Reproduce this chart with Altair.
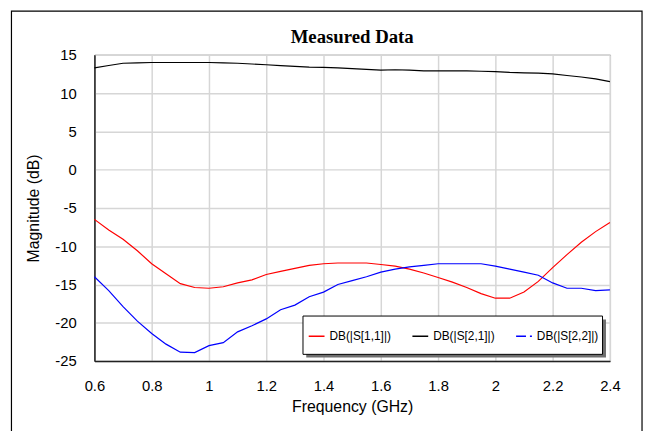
import altair as alt
import pandas as pd

freq = [0.60, 0.65, 0.70, 0.75, 0.80, 0.85, 0.90, 0.95, 1.00, 1.05, 1.10, 1.15,
        1.20, 1.25, 1.30, 1.35, 1.40, 1.45, 1.50, 1.55, 1.60, 1.65, 1.70, 1.75,
        1.80, 1.85, 1.90, 1.95, 2.00, 2.05, 2.10, 2.15, 2.20, 2.25, 2.30, 2.35, 2.40]

s11 = [-6.5, -7.9, -9.1, -10.6, -12.3, -13.6, -14.9, -15.4, -15.5, -15.3, -14.8, -14.4,
       -13.7, -13.3, -12.9, -12.5, -12.3, -12.2, -12.2, -12.2, -12.4, -12.6, -13.0, -13.5,
       -14.1, -14.7, -15.4, -16.2, -16.8, -16.8, -16.0, -14.6, -12.8, -11.1, -9.5, -8.1, -6.9]

s21 = [13.3, 13.6, 13.9, 13.95, 14.0, 14.0, 14.0, 14.0, 14.0, 13.95, 13.9, 13.8,
       13.7, 13.6, 13.5, 13.4, 13.35, 13.3, 13.2, 13.1, 13.0, 13.05, 13.0, 12.9,
       12.9, 12.9, 12.9, 12.85, 12.8, 12.7, 12.65, 12.6, 12.5, 12.3, 12.1, 11.85, 11.5]

s22 = [-14.0, -15.8, -17.9, -19.8, -21.4, -22.8, -23.85, -23.9, -23.0, -22.6, -21.2, -20.4,
       -19.5, -18.3, -17.7, -16.6, -16.0, -15.0, -14.5, -14.0, -13.4, -13.0, -12.7, -12.5,
       -12.3, -12.3, -12.3, -12.3, -12.6, -13.0, -13.4, -13.8, -14.8, -15.5, -15.5, -15.8, -15.7]

series_names = ["DB(|S[1,1]|)", "DB(|S[2,1]|)", "DB(|S[2,2]|)"]
series_colors = ["#ff0000", "#000000", "#0000ff"]
legend_dashes = [[1, 0], [1, 0], [10, 4, 2, 4]]
x_ticks = [0.6, 0.8, 1.0, 1.2, 1.4, 1.6, 1.8, 2.0, 2.2, 2.4]
y_ticks = [-25, -20, -15, -10, -5, 0, 5, 10, 15]

rows = []
for name, vals in zip(series_names, [s11, s21, s22]):
    for f, v in zip(freq, vals):
        rows.append({"freq": f, "db": v, "series": name})
df = pd.DataFrame(rows)

one = pd.DataFrame({"k": [0]})

W, H = 522, 310

leg = alt.Legend(
    title=None, orient="none", legendX=216, legendY=276,
    direction="horizontal", symbolType="stroke", symbolSize=256,
    symbolStrokeWidth=1.5, symbolOpacity=1, labelFont="Liberation Sans",
    labelFontSize=12, labelColor="black", labelOffset=4,
    columnPadding=18, padding=0)

xenc = alt.X("freq:Q",
             scale=alt.Scale(domain=[0.6, 2.4], nice=False, zero=False),
             axis=alt.Axis(values=x_ticks, format="~g", title="Frequency (GHz)",
                           titleX=W / 2, titleY=46.3, titleBaseline="middle",
                           titleAlign="center", labelFlush=False,
                           labelPadding=18, domainWidth=1.5, domainColor="#222"))
yenc = alt.Y("db:Q",
             scale=alt.Scale(domain=[-25, 15], nice=False, zero=False),
             axis=alt.Axis(values=y_ticks, labelExpr="'' + datum.value",
                           title="Magnitude (dB)",
                           titleX=-61.5, titleY=H / 2, titleBaseline="middle",
                           titleAlign="center", titleAngle=-90,
                           labelPadding=18.5, domainWidth=1.5, domainColor="#222"))
cenc = alt.Color("series:N", scale=alt.Scale(domain=series_names, range=series_colors),
                 legend=leg)

lines = alt.Chart(df).mark_line(strokeWidth=1.2).encode(
    x=xenc, y=yenc, color=cenc, detail="series:N")

legend_src = alt.Chart(df).mark_line(strokeWidth=1.2, opacity=0).encode(
    x=xenc, y=yenc, color=cenc,
    strokeDash=alt.StrokeDash("series:N",
                              scale=alt.Scale(domain=series_names, range=legend_dashes),
                              legend=leg))

outer = alt.Chart(one).mark_rect(fill=None, stroke="black", strokeWidth=1.2, clip=False).encode(
    x=alt.value(-84), x2=alt.value(554.5), y=alt.value(-44.2), y2=alt.value(385))

shadow = alt.Chart(one).mark_rect(fill="#6e6e6e", clip=False).encode(
    x=alt.value(214.5), x2=alt.value(518), y=alt.value(268), y2=alt.value(306.5))

box = alt.Chart(one).mark_rect(fill="white", stroke="black", strokeWidth=1, clip=False).encode(
    x=alt.value(211.2), x2=alt.value(514.5), y=alt.value(264.5), y2=alt.value(303.3))

chart = alt.layer(outer, lines, legend_src, shadow, box).properties(
    width=W, height=H,
    background="white",
    padding={"left": 87.5, "top": 44.75, "right": 34.5, "bottom": 68.25},
    autosize=alt.AutoSizeParams(type="none"),
    title=alt.TitleParams(text="Measured Data", font="Liberation Serif", fontSize=19,
                          fontWeight="bold", anchor="middle", frame="group",
                          baseline="alphabetic", offset=0, dy=52, color="black"),
).configure_view(
    stroke="#333", strokeWidth=1
).configure_axis(
    grid=True, gridColor="#d6d6d6", gridWidth=1.5, ticks=False, tickSize=0,
    labelFont="Liberation Sans", labelFontSize=15, labelColor="black",
    titleFont="Liberation Sans", titleFontSize=16, titleFontWeight="normal",
    titleColor="black"
)

chart.save("out.html", embed_options={"renderer": "svg", "actions": False})
